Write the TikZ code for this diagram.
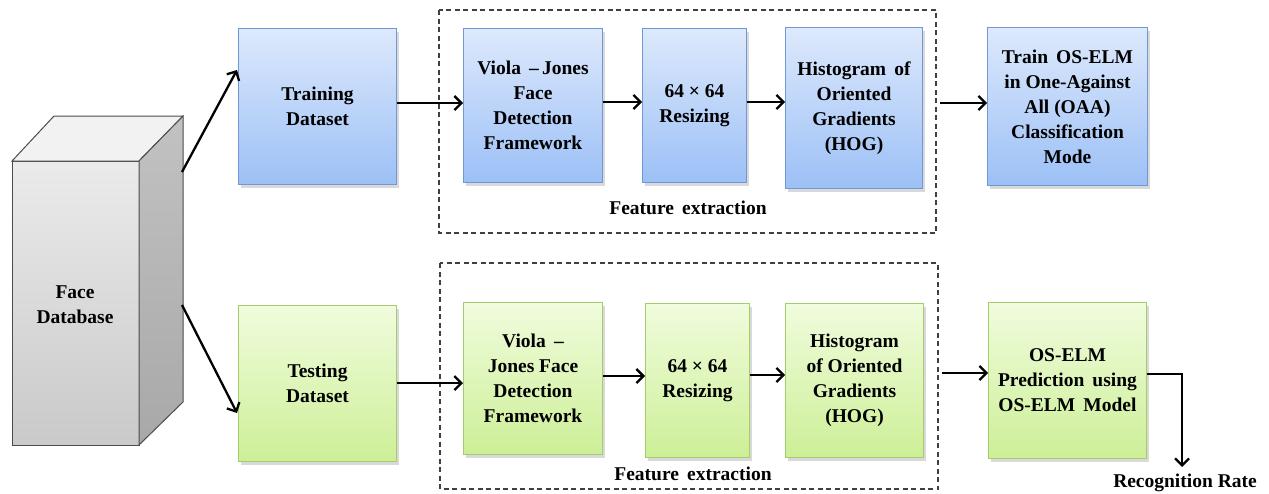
\documentclass[tikz,border=0pt]{standalone}
\usepackage{fontspec}
\setmainfont{Liberation Serif}[BoldFont={Liberation Serif Bold}]
\newfontfamily\boxfont{Liberation Serif Bold}
\usetikzlibrary{arrows.meta,shadows,calc}
\definecolor{bluetop}{HTML}{DDE9FC}
\definecolor{bluebot}{HTML}{9CC0F6}
\definecolor{blueedge}{HTML}{6F98D4}
\definecolor{greentop}{HTML}{F0FCDD}
\definecolor{greenbot}{HTML}{CDEF97}
\definecolor{greenedge}{HTML}{A3CD6A}
\begin{document}
\begin{tikzpicture}[x=1pt,y=-1pt,
  boxbase/.style={anchor=north west, align=center, inner sep=2pt,
    font=\boxfont\fontsize{19.5}{25}\selectfont, line width=1pt,
    drop shadow={shadow xshift=2pt, shadow yshift=-3pt, opacity=0.3}},
  bluebox/.style={boxbase, top color=bluetop, bottom color=bluebot, draw=blueedge},
  greenbox/.style={boxbase, top color=greentop, bottom color=greenbot, draw=greenedge},
  arr/.style={line width=2.3pt, -{Straight Barb[length=7pt,width=14pt,line width=2.3pt]}},
  dashbox/.style={draw=black!75, line width=1.3pt, dash pattern=on 5pt off 3.5pt},
  lbl/.style={font=\boxfont\fontsize{19.5}{25}\selectfont}
]
\useasboundingbox (0,0) rectangle (1269,493);

% ---- cube (Face Database)
\shade[top color=gray!16, bottom color=gray!42, draw=black!70, line width=1pt]
  (12,161) -- (139,161) -- (139,445) -- (12,445) -- cycle;
\fill[gray!10, draw=black!70, line width=1pt]
  (12,161) -- (54,116) -- (183,116) -- (139,161) -- cycle;
\shade[top color=gray!48, bottom color=gray!68, draw=black!70, line width=1pt]
  (139,161) -- (183,116) -- (183,402) -- (139,445) -- cycle;
\node[lbl, align=center] (db) at (75,305) {Face\\Database};
\coordinate (dbA) at (182,172);
\coordinate (dbB) at (182,305);

% ---- dashed groups
\draw[dashbox] (439,10) rectangle (936,233);
\draw[dashbox] (440,263) rectangle (938,489);
\node[lbl] (fe1) at (688,208) {Feature\, extraction};
\node[lbl] (fe2) at (693,474) {Feature\, extraction};

% ---- top row
\node[bluebox, minimum width=158, minimum height=156] (train) at (238,28) {Training\\Dataset};
\node[bluebox, minimum width=139, minimum height=154] (vj1) at (463,28) {Viola \,\textendash\,Jones\\Face\\Detection\\Framework};
\node[bluebox, minimum width=104, minimum height=154] (rs1) at (642,28) {64 × 64\\Resizing};
\node[bluebox, minimum width=137, minimum height=161] (hog1) at (785,27) {Histogram\, of\\Oriented\\Gradients\\(HOG)};
\node[bluebox, minimum width=160, minimum height=158] (oaa) at (987,27) {Train\, OS-ELM\\in One-Against\\All (OAA)\\Classification\\Mode};

% ---- bottom row
\node[greenbox, minimum width=158, minimum height=156] (test) at (238,305) {Testing\\Dataset};
\node[greenbox, minimum width=139, minimum height=152] (vj2) at (463,302) {Viola \,\textendash\\Jones Face\\Detection\\Framework};
\node[greenbox, minimum width=104, minimum height=154] (rs2) at (645,303) {64 × 64\\Resizing};
\node[greenbox, minimum width=138, minimum height=154] (hog2) at (785,303) {Histogram\\of Oriented\\Gradients\\(HOG)};
\node[greenbox, minimum width=158, minimum height=156] (oselm) at (988,302) {OS-ELM\\Prediction\, using\\OS-ELM\, Model};

\node[lbl] (rr) at (1185,483) {Recognition Rate};
\coordinate (rrTip) at (1182,467);

% ---- connectors
\draw[arr] (dbA) -- ($(train.north west)+(-1,42)$);
\draw[arr] (dbB) -- ($(test.north west)+(-1,108)$);

\draw[arr] (train.east |- 0,103) -- (vj1.west |- 0,103);
\draw[arr] (vj1.east |- 0,102) -- (rs1.west |- 0,102);
\draw[arr] (rs1.east |- 0,102) -- (hog1.west |- 0,102);
\draw[arr] (940,103) -- (oaa.west |- 0,103);

\draw[arr] (test.east |- 0,383) -- (vj2.west |- 0,383);
\draw[arr] (vj2.east |- 0,376) -- (rs2.west |- 0,376);
\draw[arr] (rs2.east |- 0,375) -- (hog2.west |- 0,375);
\draw[arr] (942,373) -- (oselm.west |- 0,373);

\draw[arr] (oselm.east |- 0,374) -| (rrTip);
\end{tikzpicture}
\end{document}
